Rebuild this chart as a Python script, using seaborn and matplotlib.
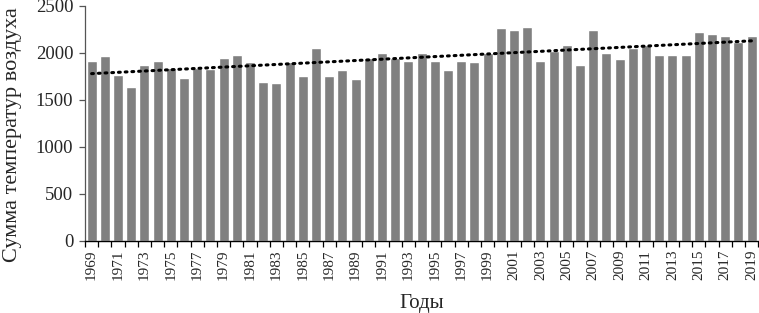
import matplotlib
matplotlib.use("Agg")
import matplotlib.pyplot as plt
import numpy as np
import pandas as pd
import seaborn as sns

YEARS = list(range(1969, 2020))
TEMP_SUM = [
    1911, 1961, 1764, 1634, 1866, 1915, 1842, 1732, 1842, 1831,
    1947, 1979, 1898, 1686, 1673, 1898, 1750, 2045, 1750, 1813,
    1718, 1943, 1993, 1943, 1915, 1993, 1915, 1813, 1915, 1898,
    2000, 2257, 2239, 2274, 1915, 2017, 2077, 1866, 2243, 1993,
    1929, 2045, 2077, 1975, 1975, 1975, 2222, 2193, 2172, 2109,
    2172,
]
Y_TICKS = [0, 500, 1000, 1500, 2000, 2500]


def main() -> None:
    sns.set_style("ticks")
    plt.rcParams["font.family"] = ["Liberation Serif", "DejaVu Serif"]

    df = pd.DataFrame({"year": [str(y) for y in YEARS], "value": TEMP_SUM})

    fig = plt.figure(figsize=(7.59, 3.13), dpi=100)
    ax = fig.add_axes([0.112, 0.231, 0.887, 0.751])

    sns.barplot(data=df, x="year", y="value", color="#808080", saturation=1,
                width=0.75, ax=ax)

    # linear trend line
    idx = np.arange(len(TEMP_SUM))
    k, b = np.polyfit(idx, TEMP_SUM, 1)
    ax.plot(idx, k * idx + b, color="black", linewidth=2.2,
            linestyle=(0, (0.6, 1.6)), dash_capstyle="round")

    n = len(YEARS)
    ax.set_xlim(-0.5, n - 0.5)
    ax.set_ylim(0, 2500)
    ax.set_yticks(Y_TICKS)
    ax.set_yticklabels([str(t) for t in Y_TICKS], fontsize=13.5)

    ax.set_xticks(np.arange(-0.5, n, 1))
    ax.set_xticklabels([])
    ax.set_xticks(np.arange(0, n, 2), minor=True)
    ax.set_xticklabels([str(YEARS[i]) for i in range(0, n, 2)], minor=True,
                       rotation=90, fontsize=11)
    ax.tick_params(axis="x", which="major", length=4, width=0.9, color="black")
    ax.tick_params(axis="x", which="minor", length=0, pad=6.5)
    ax.tick_params(axis="y", length=4, width=0.9, color="#555555", pad=4.5)

    sns.despine(ax=ax)
    ax.spines["left"].set_color("#555555")
    ax.spines["bottom"].set_color("black")
    ax.spines["left"].set_linewidth(0.9)
    ax.spines["bottom"].set_linewidth(1.0)

    ax.set_xlabel("Годы", fontsize=15)
    ax.xaxis.set_label_coords(0.5, -0.227)
    ax.set_ylabel("Сумма температур воздуха", fontsize=16)
    ax.yaxis.set_label_coords(-0.094, 0.45)

    fig.savefig("out.png", dpi=100)
    plt.close(fig)


if __name__ == "__main__":
    main()
